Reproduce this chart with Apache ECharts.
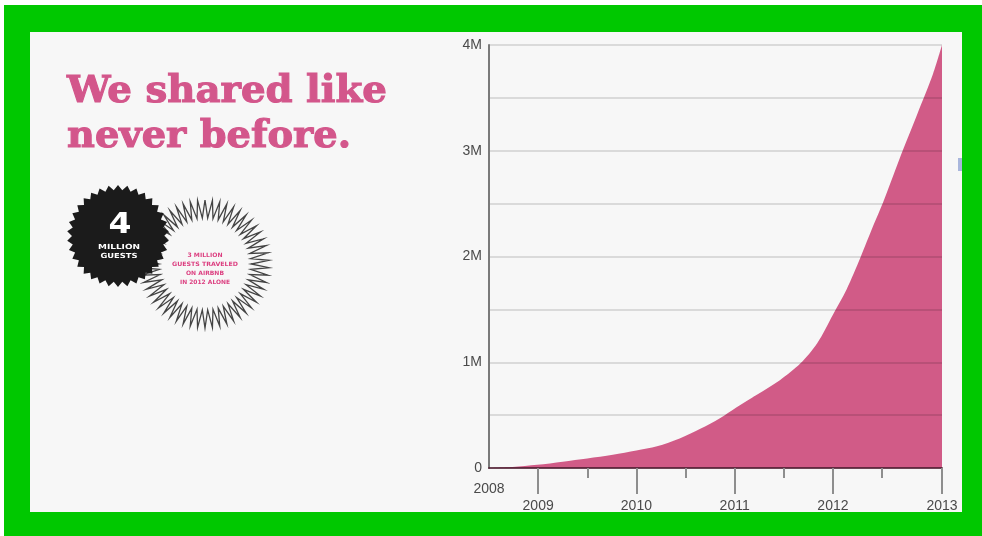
<!DOCTYPE html>
<html><head><meta charset="utf-8">
<script src="https://cdn.jsdelivr.net/npm/echarts@6/dist/echarts.min.js"></script>
<style>
html,body{margin:0;padding:0;background:#fff;width:982px;height:536px;overflow:hidden}
#frame{position:absolute;left:4px;top:5px;width:978px;height:531px;background:#00c800}
#chart{position:absolute;left:30px;top:32px;width:932px;height:480px;background:#f7f7f7}
#mark{position:absolute;left:958px;top:158px;width:4px;height:13px;background:#a9b6dc}
</style></head><body>
<div id="frame"></div><div id="chart"></div><div id="mark"></div>
<script>
// ---- data ----
const years  = [2008.5, 2008.74, 2008.99, 2009.25, 2009.5, 2009.76, 2010.0, 2010.21, 2010.44, 2010.65, 2010.85, 2011.02, 2011.16, 2011.23, 2011.46, 2011.67, 2011.84, 2012.0, 2012.14, 2012.28, 2012.41, 2012.51, 2012.68, 2012.86, 2013.02, 2013.11];
const guests = [0, 10000, 30000, 60000, 90000, 125000, 165000, 205000, 280000, 370000, 470000, 575000, 655000, 695000, 830000, 990000, 1180000, 1450000, 1690000, 1990000, 2290000, 2510000, 2930000, 3350000, 3730000, 4000000];
const yTickValues = [0, 1000000, 2000000, 3000000, 4000000];
const yTickLabels = ['0', '1M', '2M', '3M', '4M'];
const xLabelValues = [2008.5, 2009, 2010, 2011, 2012, 2013.11];
const xLabelTexts  = ['2008', '2009', '2010', '2011', '2012', '2013'];
const xMajorTicks  = [2009, 2010, 2011, 2012, 2013.11];
const xMinorTicks  = [2009.5, 2010.5, 2011.5, 2012.5];
const titleLines   = ['We shared like', 'never before.'];
const badgeBig     = '4';
const badgeSmall   = ['MILLION', 'GUESTS'];
const ringLines    = ['3 MILLION', 'GUESTS TRAVELED', 'ON AIRBNB', 'IN 2012 ALONE'];

// ---- styling ----
const PINK = '#d15b87';
const TITLE_PINK = '#d3568b';
const RING_PINK = '#dc3f80';
const X_MIN = xLabelValues[0], X_MAX = xLabelValues[xLabelValues.length - 1];

const mctx = document.createElement('canvas').getContext('2d');
function fitScale(text, font, target) { mctx.font = font; return target / mctx.measureText(text).width; }

const chart = echarts.init(document.getElementById('chart'), null, {renderer: 'canvas'});

// decorative shapes
function starPoints(cx, cy, rOut, rIn, n) {
  const pts = [];
  for (let i = 0; i < n * 2; i++) {
    const a = Math.PI * i / n - Math.PI / 2;
    const r = i % 2 === 0 ? rOut : rIn;
    pts.push([cx + r * Math.cos(a), cy + r * Math.sin(a)]);
  }
  return pts;
}
const ringPts = starPoints(175, 232, 64, 46, 54); ringPts.push(ringPts[0]);

const graphics = [];
graphics.push({type: 'polyline', z: 100, shape: {points: ringPts}, style: {stroke: '#444', lineWidth: 1.3, fill: null}});
graphics.push({type: 'polygon', z: 101, shape: {points: starPoints(88, 204, 51, 46, 34)}, style: {fill: '#1b1b1b'}});

const titleFont = 'bold 38px "DejaVu Serif"';
const titleTargets = [320, 284];
const titleBase = [103, 148];
titleLines.forEach((t, i) => {
  graphics.push({type: 'text', z: 102, x: 37, y: titleBase[i] - 32 - 11, scaleX: fitScale(t, titleFont, titleTargets[i]),
    style: {text: t, x: 0, y: 0, font: titleFont, fill: TITLE_PINK, stroke: TITLE_PINK, lineWidth: 1.1,
      align: 'left', verticalAlign: 'middle', textAlign: 'left', textVerticalAlign: 'middle'}});
});
const bigFont = 'bold 29px "DejaVu Sans"';
graphics.push({type: 'text', z: 102, x: 90, y: 193, scaleX: fitScale(badgeBig, bigFont, 23),
  style: {text: badgeBig, x: 0, y: 0, font: bigFont, fill: '#ffffff', align: 'center', verticalAlign: 'middle', textAlign: 'center', textVerticalAlign: 'middle'}});
const smallFont = 'bold 7px "DejaVu Sans"';
[[42, 215], [37, 224]].forEach((d, i) => {
  graphics.push({type: 'text', z: 102, x: 89, y: d[1], scaleX: fitScale(badgeSmall[i], smallFont, d[0]),
    style: {text: badgeSmall[i], x: 0, y: 0, font: smallFont, fill: '#ffffff', align: 'center', verticalAlign: 'middle', textAlign: 'center', textVerticalAlign: 'middle'}});
});
const ringFont = 'bold 6px "DejaVu Sans"';
const ringTargets = [35, 66, 38, 50];
const ringY = [223, 232, 241, 250];
ringLines.forEach((t, i) => {
  graphics.push({type: 'text', z: 102, x: 175, y: ringY[i], scaleX: fitScale(t, ringFont, ringTargets[i]),
    style: {text: t, x: 0, y: 0, font: ringFont, fill: RING_PINK, align: 'center', verticalAlign: 'middle', textAlign: 'center', textVerticalAlign: 'middle'}});
});

function xLabelFmt(v) {
  const i = xLabelValues.findIndex(t => Math.abs(t - v) < 1e-6);
  if (i < 0) return '';
  return (i === 0 ? '{a|' : '{b|') + xLabelTexts[i] + '}';
}
function yLabelFmt(v) {
  const i = yTickValues.findIndex(t => Math.abs(t - v) < 1);
  return i < 0 ? '' : yTickLabels[i];
}

const option = {
  animation: false,
  backgroundColor: 'transparent',
  grid: {left: 459, top: 13, right: 20, bottom: 44, containLabel: false, outerBoundsMode: 'none'},
  graphic: graphics,
  xAxis: [{
    type: 'value', min: X_MIN, max: X_MAX, z: 10,
    axisLine: {show: true, onZero: false, lineStyle: {color: 'rgba(80,30,50,0.8)', width: 2}},
    axisTick: {show: true, customValues: xMajorTicks, length: 26, lineStyle: {color: '#8e8e8e', width: 2}},
    axisLabel: {show: true, customValues: xLabelValues, formatter: xLabelFmt, margin: 14,
      rich: {a: {fontSize: 14, color: '#4a4a4a', fontFamily: 'Liberation Sans'},
             b: {fontSize: 14, color: '#4a4a4a', fontFamily: 'Liberation Sans', padding: [17, 0, 0, 0]}}},
    splitLine: {show: false}
  }, {
    type: 'value', min: X_MIN, max: X_MAX, position: 'bottom', z: 10,
    axisLine: {show: false, onZero: false},
    axisTick: {show: true, customValues: xMinorTicks, length: 10, lineStyle: {color: '#8e8e8e', width: 2}},
    axisLabel: {show: false},
    splitLine: {show: false}
  }],
  yAxis: {
    type: 'value', min: 0, max: 4000000, interval: 500000, z: 10,
    axisLine: {show: true, lineStyle: {color: '#7a7a7a', width: 2}},
    axisTick: {show: false},
    axisLabel: {formatter: yLabelFmt, color: '#4a4a4a', fontSize: 14, fontFamily: 'Liberation Sans', margin: 7},
    splitLine: {show: true, lineStyle: {color: 'rgba(0,0,0,0.16)', width: 1.5}}
  },
  series: [{
    type: 'line', xAxisIndex: 0, yAxisIndex: 0, z: 2,
    data: years.map((y, i) => [y, guests[i]]),
    smooth: 0.3, showSymbol: false, symbol: 'none',
    lineStyle: {width: 0, color: PINK},
    itemStyle: {color: PINK},
    areaStyle: {color: PINK, opacity: 1}
  }]
};
chart.setOption(option);
</script>
</body></html>
